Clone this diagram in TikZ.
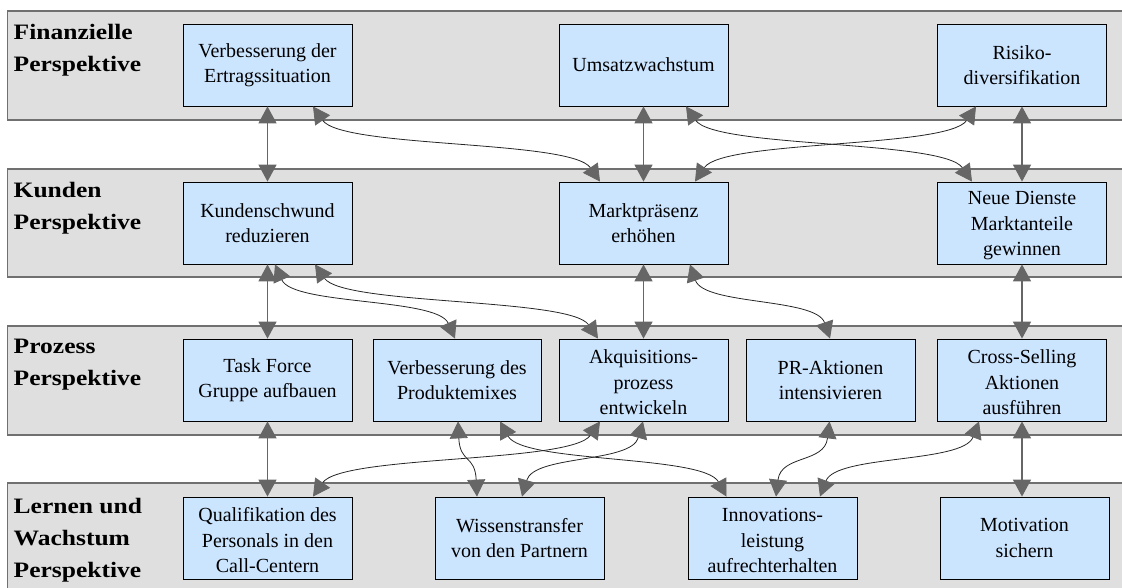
\documentclass[tikz,border=0pt]{standalone}
\usepackage{fontspec}
\setmainfont{Liberation Serif}
\newfontfamily\boxfont{Liberation Serif}
\newfontfamily\labfont[FakeStretch=1.16]{Liberation Serif}
\usetikzlibrary{arrows.meta}
\definecolor{bandgray}{HTML}{DFDFDF}
\definecolor{bandline}{HTML}{707070}
\definecolor{boxblue}{HTML}{CCE5FF}
\definecolor{arrgray}{HTML}{666666}
\newcommand\mystrut{\rule{0pt}{19pt}}
\tikzset{
  band/.style={fill=bandgray, draw=bandline, line width=1.2pt},
  goal/.style={draw=black, line width=0.8pt, fill=boxblue, minimum width=169pt,
    minimum height=82pt, inner sep=0pt, align=center,
    font=\boxfont\fontsize{20}{25.5}\selectfont},
  persp/.style={anchor=north west, inner sep=0pt, align=left,
    font=\labfont\bfseries\fontsize{22}{32}\selectfont},
  link/.style={draw=black!85, line width=0.8pt,
    {Triangle[length=17pt,width=18pt,color=arrgray]}-{Triangle[length=17pt,width=18pt,color=arrgray]}},
  vlink/.style={link, draw=arrgray, line width=1.5pt}
}
\begin{document}
\begin{tikzpicture}[x=1pt,y=-1pt]
\useasboundingbox (0,0) rectangle (1122,587);
\clip (0,0) rectangle (1122,587);
% bands
\draw[band] (7.5,11) rectangle (1135,120);
\draw[band] (7.5,169) rectangle (1135,277);
\draw[band] (7.5,326) rectangle (1135,435);
\draw[band] (7.5,483) rectangle (1135,600);
% perspective labels
\node[persp] (lf) at (13.5,24) {Finanzielle\\Perspektive};
\node[persp] (lk) at (13.5,182) {Kunden\\Perspektive};
\node[persp] (lp) at (13.5,339) {Prozess\\Perspektive};
\node[persp] (ll) at (13.5,498) {Lernen und\\Wachstum\\Perspektive};
% row 1
\node[goal] (f1) at (267.5,65) {Verbesserung der\\Ertragssituation};
\node[goal] (f2) at (643.5,65) {Umsatzwachstum};
\node[goal] (f3) at (1022,65) {Risiko-\\diversifikation};
% row 2
\node[goal] (k1) at (267.5,223) {Kundenschwund\\reduzieren};
\node[goal] (k2) at (643.5,223) {Marktpräsenz\\erhöhen};
\node[goal] (k3) at (1022,223) {\mystrut Neue Dienste\\Marktanteile\\gewinnen};
% row 3
\node[goal] (p1) at (267.5,380) {Task Force\\Gruppe aufbauen};
\node[goal, minimum width=168pt] (p2) at (457,380) {Verbesserung des\\Produktemixes};
\node[goal] (p3) at (643.5,380) {\mystrut Akquisitions-\\prozess\\entwickeln};
\node[goal] (p4) at (830.5,380) {PR-Aktionen\\intensivieren};
\node[goal] (p5) at (1022,380) {\mystrut Cross-Selling\\Aktionen\\ausführen};
% row 4
\node[goal] (l1) at (267.5,538) {\mystrut Qualifikation des\\Personals in den\\Call-Centern};
\node[goal] (l2) at (519.5,538) {Wissenstransfer\\von den Partnern};
\node[goal] (l3) at (772.5,538) {\mystrut Innovations-\\leistung\\aufrechterhalten};
\node[goal] (l4) at (1024.5,538) {Motivation\\sichern};
% connectors row 1 - row 2
\draw[vlink] (f1.south) -- (k1.north);
\draw[link] ([xshift=45.5pt]f1.south) .. controls +(29,42) and +(-29,-42) .. ([xshift=-43.5pt]k2.north);
\draw[vlink] (f2.south) -- (k2.north);
\draw[link] ([xshift=42.5pt]f2.south) .. controls +(29,42) and +(-29,-42) .. ([xshift=-50pt]k3.north);
\draw[link] ([xshift=-46pt]f3.south) .. controls +(-28,42) and +(28,-42) .. ([xshift=51.5pt]k2.north);
\draw[vlink] (f3.south) -- (k3.north);
% connectors row 2 - row 3
\draw[vlink] (k1.south) -- (p1.north);
\draw[link] ([xshift=7.5pt]k1.south) .. controls +(18,41) and +(-18,-41) .. ([xshift=-2pt]p2.north);
\draw[link] ([xshift=47.5pt]k1.south) .. controls +(28,41) and +(-28,-41) .. ([xshift=-45.5pt]p3.north);
\draw[vlink] (k2.south) -- (p3.north);
\draw[link] ([xshift=46.5pt]k2.south) .. controls +(14,41) and +(-14,-41) .. ([xshift=-0.5pt]p4.north);
\draw[vlink] (k3.south) -- (p5.north);
% connectors row 3 - row 4
\draw[vlink] (p1.south) -- (l1.north);
\draw[link] ([xshift=1pt]p2.south) .. controls +(2,42) and +(-2,-42) .. ([xshift=-42.5pt]l2.north);
\draw[link] ([xshift=43pt]p2.south) .. controls +(23,42) and +(-23,-42) .. ([xshift=-46pt]l3.north);
\draw[link] ([xshift=-43.5pt]p3.south) .. controls +(-29,42) and +(29,-42) .. ([xshift=45.5pt]l1.north);
\draw[link] ([xshift=-0.5pt]p3.south) .. controls +(-12,42) and +(12,-42) .. ([xshift=2.5pt]l2.north);
\draw[link] ([xshift=-1pt]p4.south) .. controls +(-5,42) and +(5,-42) .. ([xshift=3.5pt]l3.north);
\draw[link] ([xshift=-43pt]p5.south) .. controls +(-16,42) and +(16,-42) .. ([xshift=47.5pt]l3.north);
\draw[vlink] (p5.south) -- (p5.south |- l4.north);
\end{tikzpicture}
\end{document}
